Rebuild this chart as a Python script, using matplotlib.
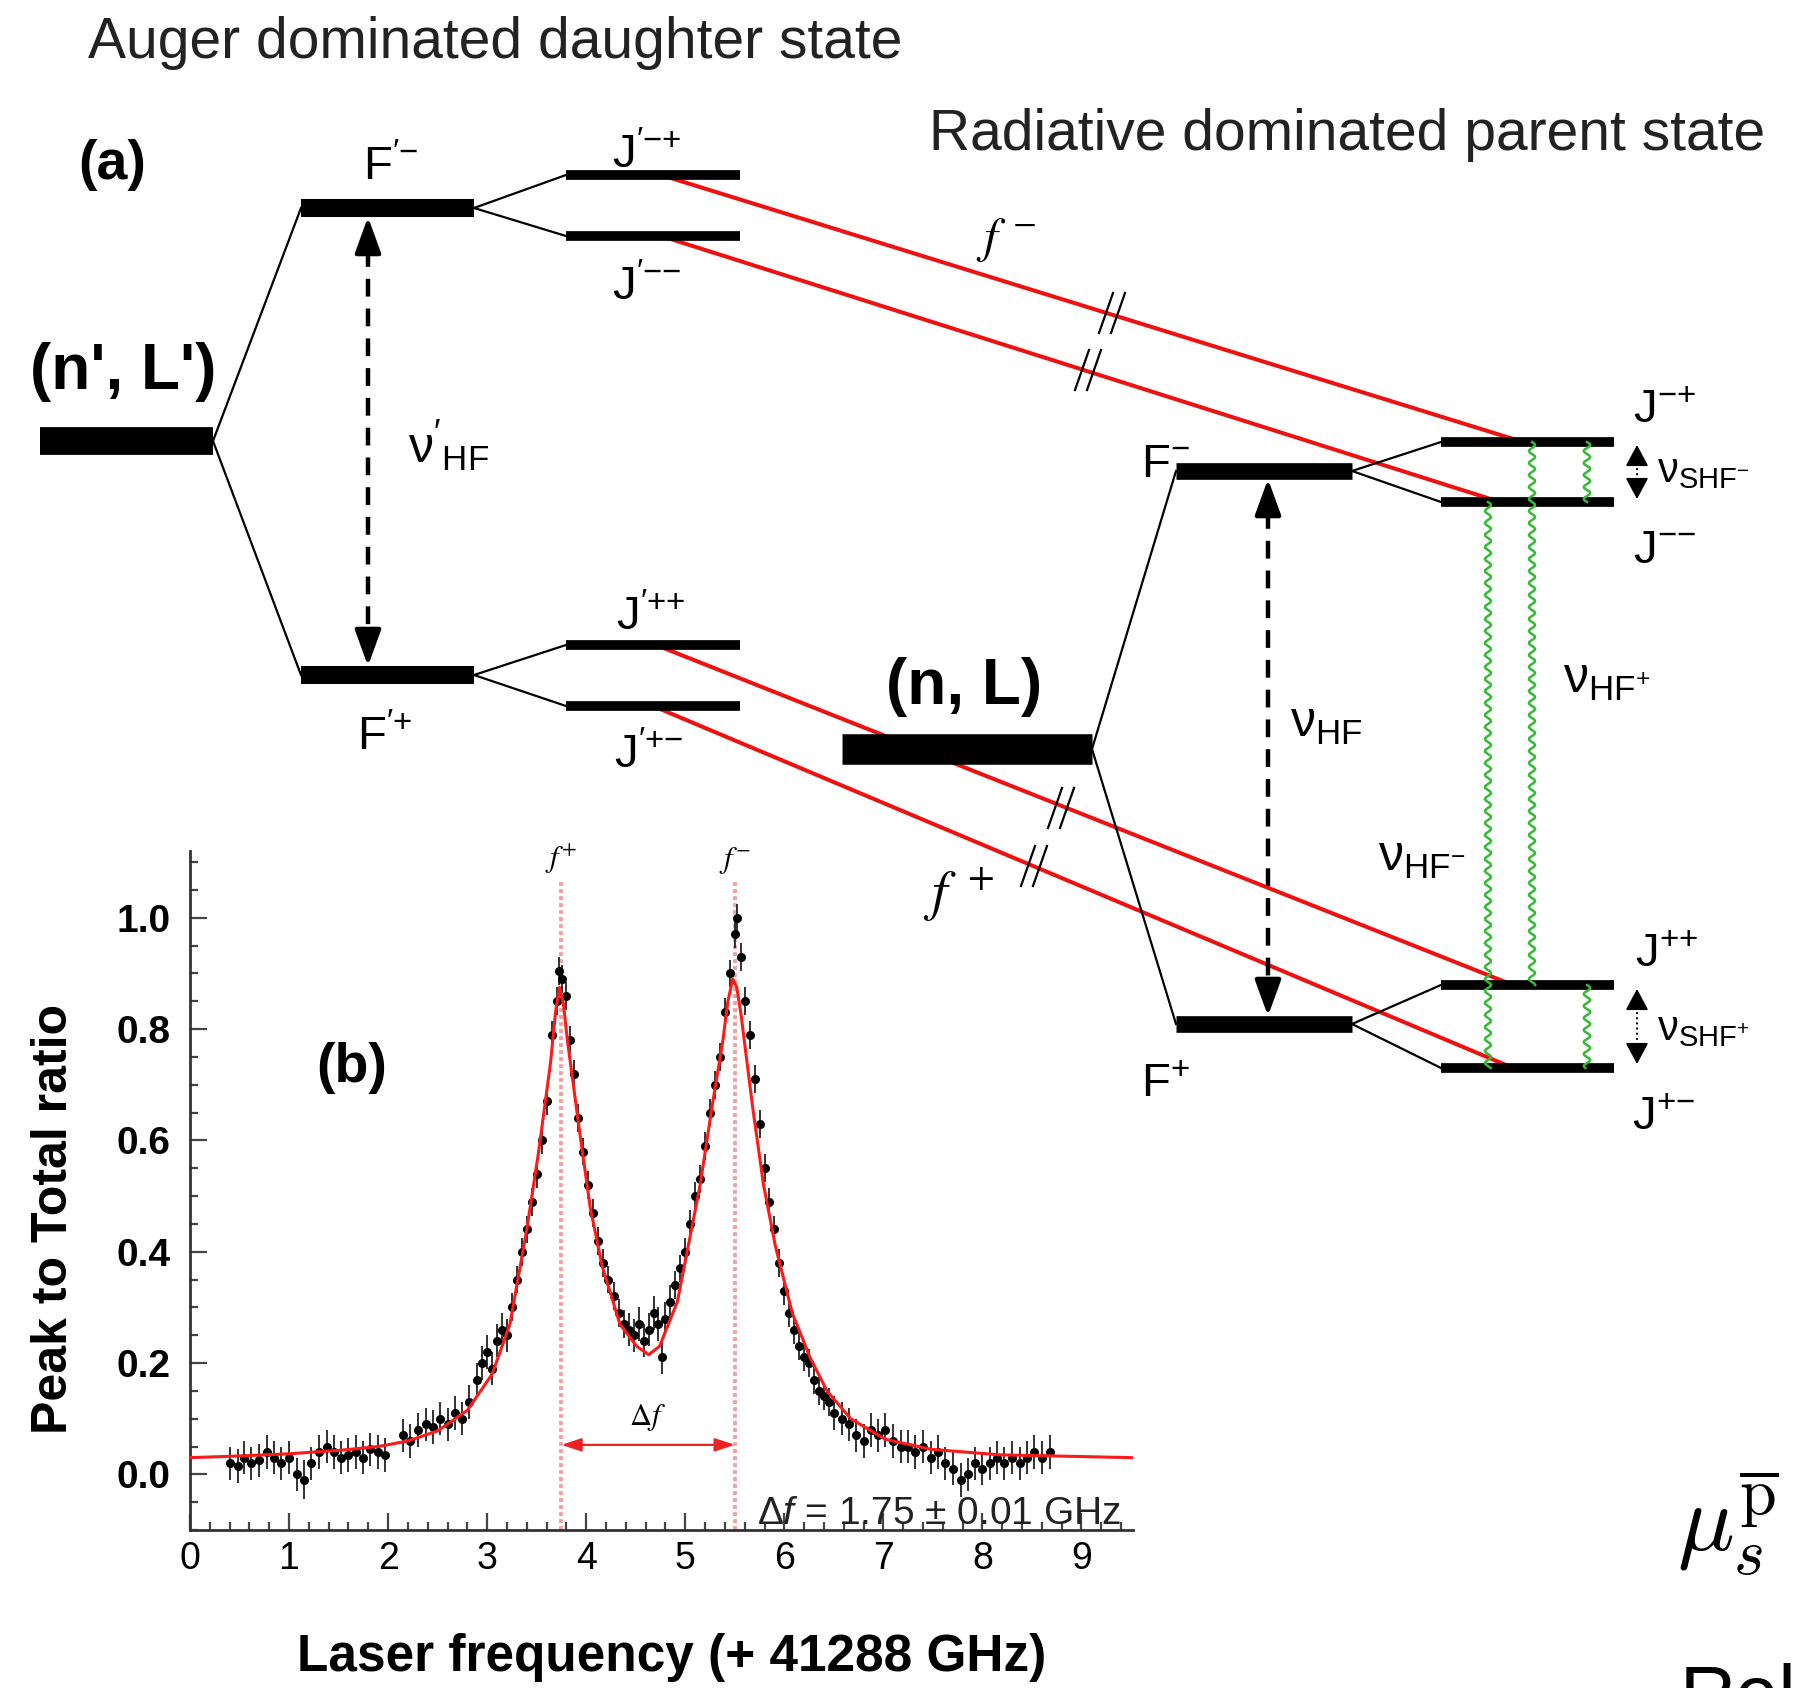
import numpy as np
import matplotlib
matplotlib.use('Agg')
import matplotlib.pyplot as plt
from matplotlib.ticker import MultipleLocator, FormatStrFormatter

plt.rcParams['font.family'] = ['Liberation Sans', 'DejaVu Sans']
plt.rcParams['mathtext.fontset'] = 'custom'
plt.rcParams['mathtext.rm'] = 'Liberation Sans'
plt.rcParams['mathtext.it'] = 'Liberation Sans:italic'
plt.rcParams['mathtext.bf'] = 'Liberation Sans:bold'

data_x = [0.40, 0.48, 0.55, 0.62, 0.70, 0.78, 0.85, 0.92, 1.00, 1.08,
          1.15, 1.22, 1.30, 1.38, 1.45, 1.52, 1.60, 1.68, 1.75, 1.82,
          1.90, 1.97, 2.15, 2.22, 2.30, 2.38, 2.45, 2.52, 2.60, 2.68,
          2.75, 2.82, 2.90, 2.95, 3.00, 3.05, 3.10, 3.15, 3.20, 3.25,
          3.30, 3.35, 3.40, 3.45, 3.50, 3.55, 3.60, 3.65, 3.70, 3.73,
          3.76, 3.80, 3.84, 3.88, 3.92, 3.97, 4.02, 4.07, 4.12, 4.17,
          4.22, 4.28, 4.33, 4.38, 4.43, 4.48, 4.53, 4.58, 4.63, 4.68,
          4.72, 4.76, 4.80, 4.85, 4.90, 4.95, 5.00, 5.05, 5.10, 5.15,
          5.20, 5.25, 5.30, 5.35, 5.40, 5.45, 5.50, 5.52, 5.56, 5.60,
          5.65, 5.70, 5.75, 5.80, 5.85, 5.90, 5.95, 6.00, 6.05, 6.10,
          6.15, 6.20, 6.25, 6.30, 6.35, 6.40, 6.45, 6.50, 6.58, 6.65,
          6.72, 6.80, 6.88, 6.95, 7.02, 7.10, 7.18, 7.25, 7.32, 7.40,
          7.48, 7.55, 7.62, 7.70, 7.78, 7.85, 7.92, 8.00, 8.08, 8.15,
          8.22, 8.30, 8.38, 8.45, 8.52, 8.60, 8.68]
data_y = [0.020, 0.015, 0.030, 0.020, 0.025, 0.040, 0.030, 0.020, 0.030, 0.000,
          -0.010, 0.020, 0.040, 0.050, 0.040, 0.030, 0.035, 0.040, 0.030, 0.045,
          0.040, 0.035, 0.070, 0.060, 0.080, 0.090, 0.085, 0.100, 0.090, 0.110,
          0.100, 0.130, 0.170, 0.200, 0.220, 0.190, 0.240, 0.260, 0.250, 0.300,
          0.350, 0.400, 0.440, 0.490, 0.540, 0.600, 0.670, 0.790, 0.850, 0.905,
          0.890, 0.860, 0.780, 0.720, 0.640, 0.580, 0.520, 0.470, 0.420, 0.380,
          0.350, 0.320, 0.290, 0.270, 0.260, 0.250, 0.270, 0.240, 0.260, 0.290,
          0.270, 0.210, 0.280, 0.310, 0.340, 0.370, 0.400, 0.450, 0.500, 0.530,
          0.590, 0.650, 0.700, 0.750, 0.830, 0.900, 0.970, 1.000, 0.930, 0.850,
          0.790, 0.710, 0.630, 0.550, 0.490, 0.440, 0.380, 0.330, 0.290, 0.260,
          0.230, 0.210, 0.200, 0.170, 0.150, 0.140, 0.130, 0.110, 0.100, 0.090,
          0.070, 0.060, 0.080, 0.070, 0.080, 0.060, 0.050, 0.050, 0.040, 0.050,
          0.030, 0.040, 0.020, 0.010, -0.010, 0.000, 0.020, 0.010, 0.020, 0.030,
          0.020, 0.030, 0.020, 0.030, 0.040, 0.030, 0.040]
data_err = [0.030, 0.030, 0.030, 0.030, 0.030, 0.030, 0.030, 0.030, 0.030, 0.030,
            0.035, 0.030, 0.030, 0.030, 0.030, 0.030, 0.030, 0.030, 0.030, 0.030,
            0.030, 0.030, 0.030, 0.030, 0.030, 0.030, 0.030, 0.030, 0.030, 0.030,
            0.030, 0.030, 0.030, 0.030, 0.030, 0.030, 0.030, 0.030, 0.030, 0.025,
            0.025, 0.025, 0.025, 0.025, 0.025, 0.025, 0.025, 0.025, 0.025, 0.025,
            0.025, 0.025, 0.025, 0.025, 0.025, 0.025, 0.025, 0.025, 0.025, 0.025,
            0.025, 0.025, 0.025, 0.025, 0.030, 0.030, 0.030, 0.030, 0.030, 0.030,
            0.030, 0.030, 0.030, 0.030, 0.025, 0.025, 0.025, 0.025, 0.025, 0.025,
            0.025, 0.025, 0.025, 0.025, 0.025, 0.025, 0.025, 0.025, 0.025, 0.025,
            0.025, 0.025, 0.025, 0.025, 0.025, 0.025, 0.025, 0.025, 0.025, 0.025,
            0.025, 0.025, 0.025, 0.025, 0.025, 0.025, 0.025, 0.030, 0.030, 0.030,
            0.030, 0.030, 0.030, 0.030, 0.030, 0.030, 0.030, 0.030, 0.030, 0.030,
            0.030, 0.030, 0.030, 0.030, 0.030, 0.030, 0.030, 0.030, 0.030, 0.030,
            0.030, 0.030, 0.030, 0.030, 0.030, 0.030, 0.030]

# fitted curve (red)
fit_x = [0.0, 0.5, 1.0, 1.5, 1.9, 2.2, 2.5, 2.8, 3.05, 3.23, 3.40, 3.52, 3.64,
         3.69, 3.73, 3.77, 3.81, 3.93, 4.04, 4.16, 4.34, 4.51, 4.63, 4.74, 4.92,
         5.03, 5.15, 5.27, 5.38, 5.43, 5.48, 5.52, 5.56, 5.68, 5.79, 5.91, 6.08,
         6.26, 6.43, 6.67, 7.02, 7.48, 8.18, 9.52]
fit_y = [0.030, 0.033, 0.037, 0.043, 0.050, 0.060, 0.078, 0.115, 0.180, 0.270, 0.440, 0.580, 0.740,
         0.830, 0.875, 0.845, 0.780, 0.620, 0.480, 0.375, 0.270, 0.230, 0.215, 0.230, 0.310,
         0.410, 0.520, 0.660, 0.780, 0.850, 0.890, 0.875, 0.830, 0.660, 0.520, 0.410, 0.290,
         0.210, 0.150, 0.100, 0.063, 0.045, 0.035, 0.030]

peak_pos = [3.75, 5.5]
peak_names = [r"$f^{+}$", r"$f^{-}$"]

W, H = 1803, 1688
fig = plt.figure(figsize=(W / 100, H / 100), dpi=100)
ax = fig.add_axes([0, 0, 1, 1])
ax.set_xlim(0, W)
ax.set_ylim(H, 0)
ax.axis('off')

# ---------- (a) level diagram, drawn in pixel coordinates ----------
levels = [
    (40, 213, 441, 20), (842, 1092, 749, 22),              # (n',L'), (n,L)
    (301, 474, 208, 13), (301, 474, 675, 13),              # F'-, F'+
    (1176, 1352, 471, 12), (1176, 1352, 1024, 12),         # F-, F+
    (566, 740, 175, 7), (566, 740, 236, 7),                # J'-+, J'--
    (566, 740, 645, 7), (566, 740, 706, 7),                # J'++, J'+-
    (1441, 1614, 442, 7), (1441, 1614, 502, 7),            # J-+, J--
    (1441, 1614, 985, 7), (1441, 1614, 1068, 7),           # J++, J+-
]
for x0, x1, y, lw in levels:
    ax.plot([x0, x1], [y, y], color='black', lw=lw, solid_capstyle='butt', zorder=3)

connectors = [
    ((213, 441), (301, 208)), ((213, 441), (301, 675)),
    ((474, 208), (566, 175)), ((474, 208), (566, 236)),
    ((474, 675), (566, 645)), ((474, 675), (566, 706)),
    ((1092, 749), (1176, 471)), ((1092, 749), (1176, 1024)),
    ((1352, 471), (1441, 442)), ((1352, 471), (1441, 502)),
    ((1352, 1024), (1441, 985)), ((1352, 1024), (1441, 1068)),
]
for (xa, ya), (xb, yb) in connectors:
    ax.plot([xa, xb], [ya, yb], color='black', lw=1.6, zorder=2)

# laser transitions
red_lines = [((661, 175), (1523, 442)), ((661, 236), (1500, 502)),
             ((656, 645), (1513, 985)), ((653, 706), (1513, 1068))]
for (xa, ya), (xb, yb) in red_lines:
    ax.plot([xa, xb], [ya, yb], color='#ee1111', lw=2.9, zorder=1)

# break marks "//"
for cx, cy in [(1112, 313), (1088, 370), (1061, 808), (1034, 866)]:
    for dx in (-6, 6):
        ax.plot([cx + dx - 7, cx + dx + 7], [cy + 20, cy - 20], color='black', lw=1.6, zorder=4)

# microwave transitions (wavy green)
def wavy(x, y0, y1):
    ys = np.linspace(y0, y1, 300)
    xs = x + 3.2 * np.sin(2 * np.pi * (ys - y0) / 12.0)
    ax.plot(xs, ys, color='#33bb33', lw=1.8, zorder=4)

wavy(1488, 502, 1068)
wavy(1532, 442, 985)
wavy(1587, 442, 502)
wavy(1587, 985, 1068)

def double_arrow(x, ytop, ybot, lw, ls, hl, hw, head_px):
    ax.plot([x, x], [ytop + head_px, ybot - head_px], color='black', lw=lw, linestyle=ls, zorder=4)
    style = f'-|>,head_length={hl},head_width={hw}'
    ax.annotate('', xy=(x, ytop), xytext=(x, ytop + head_px),
                arrowprops=dict(arrowstyle=style, color='black', lw=lw,
                                shrinkA=0, shrinkB=0, mutation_scale=1))
    ax.annotate('', xy=(x, ybot), xytext=(x, ybot - head_px),
                arrowprops=dict(arrowstyle=style, color='black', lw=lw,
                                shrinkA=0, shrinkB=0, mutation_scale=1))

double_arrow(368, 217, 666, 3.2, (0, (4, 2.7)), 22, 8, 32)
double_arrow(1268, 479, 1016, 3.2, (0, (4, 2.7)), 22, 8, 32)
double_arrow(1637, 445, 499, 1.4, ':', 13, 7, 18)
double_arrow(1637, 989, 1064, 1.4, ':', 13, 7, 18)

# ---------- text ----------
ax.text(88, 58, "Auger dominated daughter state", fontsize=41, color='#222222', va='baseline')
ax.text(929, 150, "Radiative dominated parent state", fontsize=41, color='#222222', va='baseline')
ax.text(78, 165, "(a)", fontsize=40, weight='bold', va='center')
ax.text(30, 372, "(n', L')", fontsize=46, weight='bold', va='center')
ax.text(886, 687, "(n, L)", fontsize=46, weight='bold', va='center')

lab = dict(fontsize=34, va='baseline', ha='left')
ax.text(363, 180, r"$\mathrm{F}^{\prime{-}}$", **lab)
ax.text(357, 750, r"$\mathrm{F}^{\prime{+}}$", **lab)
ax.text(612, 168, r"$\mathrm{J}^{\prime{-}{+}}$", **lab)
ax.text(612, 300, r"$\mathrm{J}^{\prime{-}{-}}$", **lab)
ax.text(616, 630, r"$\mathrm{J}^{\prime{+}{+}}$", **lab)
ax.text(614, 768, r"$\mathrm{J}^{\prime{+}{-}}$", **lab)
ax.text(1141, 477, r"$\mathrm{F}^{-}$", **lab)
ax.text(1141, 1097, r"$\mathrm{F}^{+}$", **lab)
ax.text(1633, 423, r"$\mathrm{J}^{{-}{+}}$", **lab)
ax.text(1633, 563, r"$\mathrm{J}^{{-}{-}}$", **lab)
ax.text(1635, 967, r"$\mathrm{J}^{{+}{+}}$", **lab)
ax.text(1632, 1130, r"$\mathrm{J}^{{+}{-}}$", **lab)

nu = dict(fontsize=36, va='baseline', ha='left')
ax.text(408, 463, r"$\mathrm{\nu}'_{\mathrm{HF}}$", **nu)
ax.text(1290, 737, r"$\mathrm{\nu}_{\mathrm{HF}}$", **nu)
ax.text(1563, 693, r"$\mathrm{\nu}_{\mathrm{HF}^{+}}$", **nu)
ax.text(1378, 871, r"$\mathrm{\nu}_{\mathrm{HF}^{-}}$", **nu)
ax.text(1657, 482, r"$\mathrm{\nu}_{\mathrm{SHF}^{-}}$", fontsize=30, va='baseline')
ax.text(1657, 1040, r"$\mathrm{\nu}_{\mathrm{SHF}^{+}}$", fontsize=30, va='baseline')

ax.text(976, 252, r"$f^{\,-}$", fontsize=36, math_fontfamily='stix', va='baseline')
ax.text(923, 910, r"$f^{\ +}$", fontsize=40, math_fontfamily='stix', va='baseline')

ax.text(1677, 1552, r"$\mu_s^{\overline{\mathrm{p}}}$", fontsize=68, math_fontfamily='cm', va='baseline')
ax.text(1680, 1720, "Rel", fontsize=56, va='baseline')

# axis titles of panel (b)
ax.text(54, 1219, "Peak to Total ratio", rotation=90, fontsize=36, weight='bold',
        ha='center', va='center')
ax.text(672, 1658, "Laser frequency (+ 41288 GHz)", fontsize=37, weight='bold',
        ha='center', va='center')

# ---------- (b) spectrum ----------
ax2 = fig.add_axes([190 / W, 1 - 1530 / H, (1133 - 190) / W, (1530 - 851) / H])
ax2.patch.set_alpha(0)
ax2.set_xlim(0, 9.52)
ax2.set_ylim(-0.1, 1.12)

for xp, nm in zip(peak_pos, peak_names):
    ax2.plot([xp, xp], [-0.1, 1.07], color='#f4a0a0', lw=2.8, linestyle=(0, (1.0, 0.8)), zorder=1)
    ax2.text(xp, 1.075, nm, fontsize=22, math_fontfamily='stix', ha='center', va='bottom')

ax2.errorbar(data_x, data_y, yerr=data_err, xerr=0.025, fmt='o', ms=5.5, color='black',
             ecolor='#222222', elinewidth=1.3, capsize=0, zorder=3)
ax2.plot(fit_x, fit_y, color='#ff1a1a', lw=2.2, zorder=4)

ax2.annotate('', xy=(peak_pos[0], 0.053), xytext=(peak_pos[1], 0.053),
             arrowprops=dict(arrowstyle='<|-|>,head_length=0.6,head_width=0.2', color='#ee2222',
                             lw=1.6, mutation_scale=20, shrinkA=0, shrinkB=0))
ax2.text(4.62, 0.075, r"$\Delta f$", fontsize=22, math_fontfamily='stix', ha='center', va='bottom')
ax2.text(5.72, -0.072, r"$\Delta f$ = 1.75 ± 0.01 GHz", fontsize=28, ha='left', va='center',
         clip_on=False, color='#222222')
ax2.text(1.63, 0.73, "(b)", fontsize=40, weight='bold', ha='center', va='center')

for s in ['top', 'right']:
    ax2.spines[s].set_visible(False)
for s in ['left', 'bottom']:
    ax2.spines[s].set_linewidth(2)
    ax2.spines[s].set_color('#333333')

ax2.xaxis.set_major_locator(MultipleLocator(1))
ax2.xaxis.set_minor_locator(MultipleLocator(0.2))
ax2.yaxis.set_major_locator(MultipleLocator(0.2))
ax2.yaxis.set_minor_locator(MultipleLocator(0.05))
ax2.yaxis.set_major_formatter(FormatStrFormatter('%.1f'))
ax2.tick_params(which='both', direction='in', width=1.6, color='#444444')
ax2.tick_params(which='major', length=12)
ax2.tick_params(which='minor', length=6)
ax2.tick_params(axis='y', which='major', labelsize=28, pad=14)
ax2.tick_params(axis='x', which='major', labelsize=27, pad=8)
for t in ax2.get_yticklabels():
    t.set_fontweight('bold')

fig.savefig('out.png', dpi=100)
